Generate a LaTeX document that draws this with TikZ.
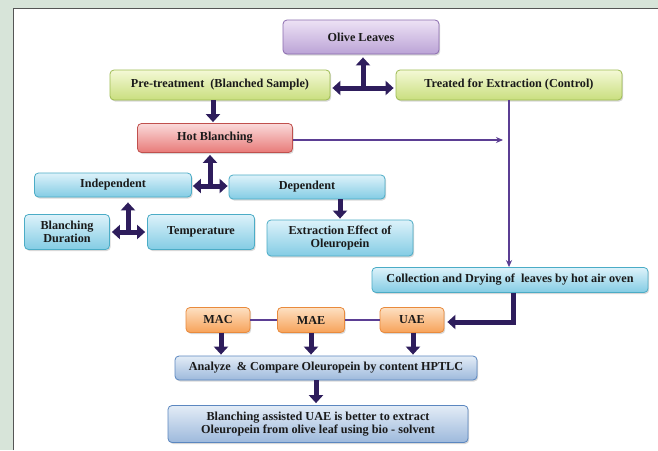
\documentclass[tikz,border=0pt]{standalone}
\usepackage{fontspec}
\setmainfont{Liberation Serif}
\usetikzlibrary{arrows.meta,shadows,calc}
\definecolor{bgc}{HTML}{D7E4D9}
\definecolor{framec}{HTML}{555555}
\definecolor{arrc}{HTML}{2E1D5C}
\definecolor{linc}{HTML}{5B3E93}
\definecolor{txtc}{HTML}{1A1A1A}
\definecolor{purT}{HTML}{EDE2F5}\definecolor{purB}{HTML}{BBA3D6}\definecolor{purD}{HTML}{8A6BAE}
\definecolor{grnT}{HTML}{F4F9D6}\definecolor{grnB}{HTML}{C9DE7E}\definecolor{grnD}{HTML}{9DBB52}
\definecolor{redT}{HTML}{FADADA}\definecolor{redB}{HTML}{E87A78}\definecolor{redD}{HTML}{C0504D}
\definecolor{cyaT}{HTML}{DDF2FA}\definecolor{cyaB}{HTML}{83CCE4}\definecolor{cyaD}{HTML}{4BACC6}
\definecolor{oraT}{HTML}{FDE0C2}\definecolor{oraB}{HTML}{F7A259}\definecolor{oraD}{HTML}{E98A3C}
\definecolor{bluT}{HTML}{E3ECF6}\definecolor{bluB}{HTML}{9DB9DC}\definecolor{bluD}{HTML}{5B87C0}
\tikzset{
  box/.style={rounded corners=4pt, line width=0.8pt, align=center, text=txtc,
    font=\fontsize{12.2}{13.5}\selectfont\bfseries, inner sep=1pt,
    drop shadow={shadow xshift=1.2pt, shadow yshift=-1.5pt, opacity=0.3}},
  purbox/.style={box, draw=purD, top color=purT, bottom color=purB},
  grnbox/.style={box, draw=grnD, top color=grnT, bottom color=grnB},
  redbox/.style={box, draw=redD, top color=redT, bottom color=redB},
  cyabox/.style={box, draw=cyaD, top color=cyaT, bottom color=cyaB},
  orabox/.style={box, draw=oraD, top color=oraT, bottom color=oraB},
  blubox/.style={box, draw=bluD, top color=bluT, bottom color=bluB},
  barrow/.style={draw=arrc, line width=5pt, -{Triangle[width=14pt,length=8pt]}},
  bhead/.style={draw=arrc, line width=5pt, {Triangle[width=14pt,length=8pt]}-{Triangle[width=14pt,length=8pt]}},
  tline/.style={draw=linc, line width=1.6pt},
  tarrow/.style={tline, -{Stealth[length=7pt,width=6pt]}}
}
\begin{document}
\begin{tikzpicture}[x=1pt,y=-1pt]
\useasboundingbox (0,0) rectangle (658,450);
\fill[bgc] (0,0) rectangle (658,450);
\fill[white] (13,8) rectangle (658,450);
\draw[framec, line width=1pt] (13,450) -- (13,8) -- (658,8);

% nodes
\node[purbox, minimum width=156, minimum height=34] (olive) at (361,37) {Olive Leaves};
\node[grnbox, minimum width=220, minimum height=30] (pre) at (220,85) {Pre-treatment\ \ (Blanched Sample)};
\node[grnbox, minimum width=226, minimum height=30] (treat) at (509,85) {Treated for Extraction (Control)};
\node[redbox, minimum width=155, minimum height=29] (hot) at (215,138) {Hot Blanching};
\node[cyabox, minimum width=157, minimum height=24] (indep) at (113,185) {Independent};
\node[cyabox, minimum width=156, minimum height=24] (dep) at (307,187) {Dependent};
\node[cyabox, minimum width=85, minimum height=35] (bdur) at (67,232) {Blanching\\Duration};
\node[cyabox, minimum width=107, minimum height=35] (temp) at (201,232) {Temperature};
\node[cyabox, minimum width=146, minimum height=36] (extr) at (340,238) {Extraction Effect of\\Oleuropein};
\node[cyabox, minimum width=276, minimum height=25] (coll) at (510,280) {Collection and Drying of\ \ leaves by hot air oven};
\node[orabox, minimum width=64, minimum height=25] (mac) at (218,320) {MAC};
\node[orabox, minimum width=67, minimum height=25] (mae) at (311,320) {MAE};
\node[orabox, minimum width=64, minimum height=25] (uae) at (412,320) {UAE};
\node[blubox, minimum width=302, minimum height=24] (ana) at (326,368) {Analyze\ \ \& Compare Oleuropein by content HPTLC};
\node[blubox, minimum width=300, minimum height=37] (fin) at (318,424) {Blanching assisted UAE is better to extract\\Oleuropein from olive leaf using bio - solvent};

% three-way arrow 1
\coordinate (j1) at (363,88);
\draw[bhead, shorten <=2pt, shorten >=2pt] (pre.east |- j1) -- (treat.west |- j1);
\draw[barrow, shorten >=3pt] (j1) -- (j1 |- olive.south);

% pre -> hot
\draw[barrow, shorten >=1pt] (213,100) coordinate (p1) -- (p1 |- hot.north);

% three-way arrow 2
\coordinate (j2) at (210,186);
\draw[bhead, shorten <=1pt, shorten >=1pt] (indep.east |- j2) -- (dep.west |- j2);
\draw[barrow, shorten >=2pt] (j2) -- (j2 |- hot.south);

% three-way arrow 3
\coordinate (j3) at (128,232);
\draw[bhead, shorten <=2pt, shorten >=2pt] (bdur.east |- j3) -- (temp.west |- j3);
\draw[barrow, shorten >=5pt] (j3) -- (j3 |- indep.south);

% dep -> extraction
\draw[barrow, shorten >=1pt] (extr.north |- dep.south) -- (extr.north);

% hot blanching -> line
\coordinate (hbend) at (503,140);
\draw[tarrow] (hot.east |- hbend) -- (hbend);

% treated -> collection
\draw[tarrow] (treat.south) -- (treat.south |- coll.north);

% collection -> UAE
\draw[barrow, shorten >=3pt] (513,292.5) coordinate (c1) |- (uae.east |- 0,322);

% MAC - MAE - UAE
\draw[tline] (mac.east) -- (mae.west);
\draw[tline] (mae.east) -- (uae.west);

% to analyze
\draw[barrow, shorten >=1pt] (221,332.5) coordinate (m1) -- (m1 |- ana.north);
\draw[barrow, shorten >=1pt] (mae.south) -- (mae.south |- ana.north);
\draw[barrow, shorten >=1pt] (413,332.5) coordinate (u1) -- (u1 |- ana.north);

% analyze -> final
\draw[barrow, shorten >=2pt] (316,380) coordinate (a1) -- (a1 |- fin.north);
\end{tikzpicture}
\end{document}
